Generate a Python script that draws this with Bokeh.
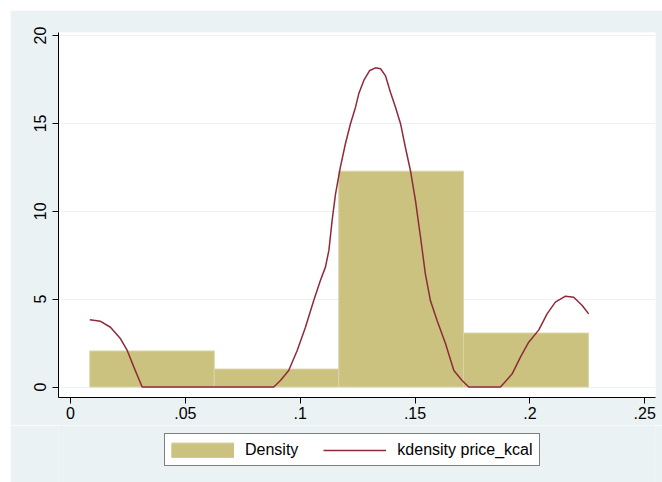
from bokeh.plotting import figure
from bokeh.layouts import column
from bokeh.models import Range1d, FixedTicker, Legend, LegendItem
from bokeh.embed import file_html
from bokeh.resources import INLINE

# Histogram (density) of price_kcal
bin_edges = [0.0084, 0.0626, 0.1168, 0.1711, 0.2255]
bin_density = [2.05, 1.02, 12.28, 3.07]

# Kernel density estimate
kd_x = [0.0084, 0.0131, 0.0174, 0.0218, 0.0247, 0.0276, 0.0312, 0.0885, 0.0914,
        0.0950, 0.0987, 0.1023, 0.1059, 0.1088, 0.1110, 0.1125, 0.1139, 0.1154,
        0.1175, 0.1197, 0.1219, 0.1241, 0.1255, 0.1277, 0.1303, 0.1328, 0.1350,
        0.1371, 0.1393, 0.1415, 0.1437, 0.1458, 0.1480, 0.1502, 0.1524, 0.1545,
        0.1567, 0.1596, 0.1633, 0.1669, 0.1705, 0.1734, 0.1872, 0.1923, 0.1959,
        0.1995, 0.2039, 0.2075, 0.2111, 0.2155, 0.2191, 0.2228, 0.2256]
kd_y = [3.82, 3.74, 3.40, 2.74, 2.08, 1.13, 0.0, 0.0, 0.37,
        0.94, 2.08, 3.40, 4.92, 6.06, 6.82, 7.77, 9.47, 10.99,
        12.51, 13.84, 14.98, 15.92, 16.68, 17.44, 18.01, 18.16, 18.11,
        17.72, 16.77, 15.92, 14.98, 13.64, 12.32, 10.61, 8.52, 6.44,
        4.92, 3.78, 2.46, 0.94, 0.37, 0.0, 0.0, 0.75, 1.70,
        2.55, 3.25, 4.16, 4.83, 5.17, 5.11, 4.64, 4.16]

x_ticks = [0, 0.05, 0.1, 0.15, 0.2, 0.25]
x_tick_labels = ["0", ".05", ".1", ".15", ".2", ".25"]
y_ticks = [0, 5, 10, 15, 20]
y_tick_labels = ["0", "5", "10", "15", "20"]
legend_labels = ["Density", "kdensity price_kcal"]

BG = "#EAF2F3"
BAR = "#CAC27E"
BAR_EDGE = "#D9D4A6"
LINE = "#8E2B3A"
FONT = "Liberation Sans"

p = figure(width=652, height=415, output_backend="svg", toolbar_location=None,
           x_range=Range1d(-0.00522, 0.2547), y_range=Range1d(-0.597, 20.17),
           min_border_left=48, min_border_right=7, min_border_top=22, min_border_bottom=28)

p.background_fill_color = "white"
p.border_fill_color = BG
p.outline_line_color = None

bar_style = dict(fill_color=BAR, line_color=BAR_EDGE, line_width=1)
line_style = dict(line_color=LINE, line_width=1.5)

p.quad(left=bin_edges[:-1], right=bin_edges[1:], bottom=0, top=bin_density, **bar_style)
p.line(kd_x, kd_y, **line_style)

p.xgrid.visible = False
p.ygrid.grid_line_color = BG
p.ygrid.grid_line_width = 1.2

for ax in (p.xaxis[0], p.yaxis[0]):
    ax.axis_line_color = "black"
    ax.axis_line_width = 1
    ax.major_tick_line_color = "black"
    ax.major_tick_out = 6
    ax.major_tick_in = 0
    ax.minor_tick_line_color = None
    ax.major_label_text_font = FONT
    ax.major_label_text_font_size = "16px"
    ax.major_label_text_color = "black"

p.xaxis[0].ticker = FixedTicker(ticks=x_ticks)
p.xaxis[0].major_label_overrides = {t: l for t, l in zip(x_ticks, x_tick_labels)}
p.xaxis[0].major_label_standoff = 3
p.yaxis[0].ticker = FixedTicker(ticks=y_ticks)
p.yaxis[0].major_label_overrides = {t: l for t, l in zip(y_ticks, y_tick_labels)}
p.yaxis[0].major_label_orientation = "vertical"
p.yaxis[0].major_label_standoff = 6

# Legend strip below the plot: key glyphs drawn outside its (empty) view so only keys show
lg = figure(width=652, height=57, output_backend="svg", toolbar_location=None,
            x_range=Range1d(-2, -1), y_range=Range1d(-2, -1),
            x_axis_location=None, y_axis_location=None, min_border=0)
lg.background_fill_color = BG
lg.border_fill_color = BG
lg.outline_line_color = None
lg.xgrid.visible = False
lg.ygrid.visible = False
# full-size swatch for the bars: a thick butt-capped stroke of the bar colour
key_bar_edge = lg.line(kd_x, kd_y, line_color=BAR_EDGE, line_width=16, line_cap="butt")
key_bar = lg.line(kd_x, kd_y, line_color=BAR, line_width=14, line_cap="butt")
key_line = lg.line(kd_x, kd_y, **line_style)

legend = Legend(items=[LegendItem(label=legend_labels[0], renderers=[key_bar_edge, key_bar]),
                       LegendItem(label=legend_labels[1], renderers=[key_line])],
                orientation="horizontal", location=(106, 16))
legend.padding = 6
legend.spacing = 25
legend.margin = 0
legend.glyph_width = 63
legend.glyph_height = 16
legend.label_height = 19
legend.label_standoff = 11
legend.label_text_font = FONT
legend.label_text_font_size = "16px"
legend.label_text_color = "black"
legend.border_line_color = "black"
legend.border_line_width = 1
legend.background_fill_color = "white"
legend.background_fill_alpha = 1
lg.add_layout(legend, "center")

layout = column(p, lg, spacing=0, margin=(10, 0, 0, 10))

open("out.html", "w").write(file_html(layout, INLINE))
